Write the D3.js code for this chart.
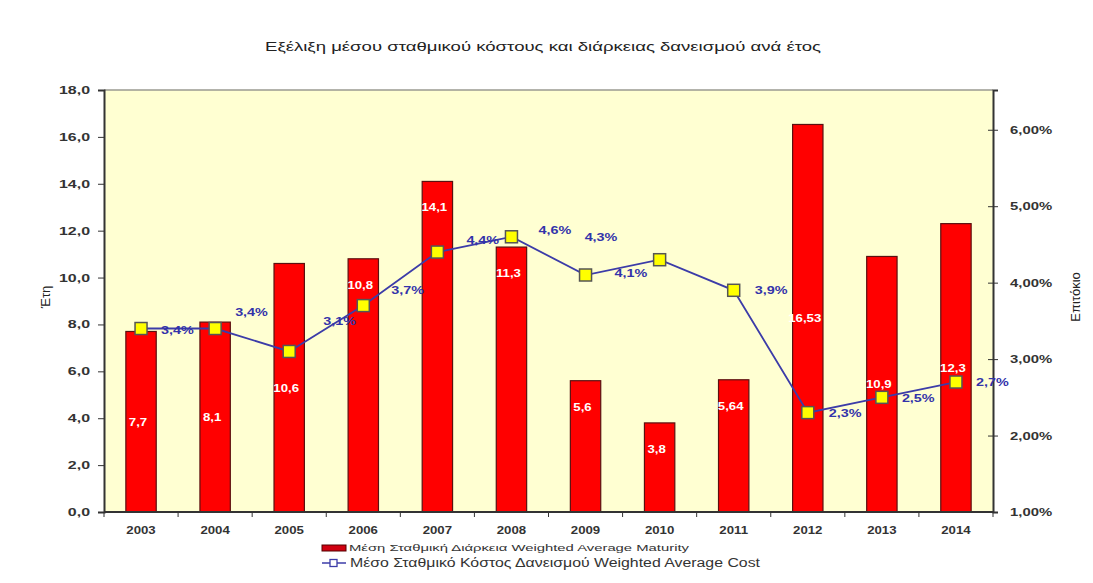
<!DOCTYPE html>
<html><head><meta charset="utf-8">
<script src="https://cdn.jsdelivr.net/npm/d3@7/dist/d3.min.js"></script>
<style>body{margin:0;background:#fff}svg{display:block}text{font-family:"Liberation Sans",Arial,sans-serif}</style>
</head><body><svg id="c" width="1093" height="583"></svg>
<script>
const years = ["2003","2004","2005","2006","2007","2008","2009","2010","2011","2012","2013","2014"];
const maturity = [7.7, 8.1, 10.6, 10.8, 14.1, 11.3, 5.6, 3.8, 5.64, 16.53, 10.9, 12.3];
const cost = [3.4, 3.4, 3.1, 3.7, 4.4, 4.6, 4.1, 4.3, 3.9, 2.3, 2.5, 2.7];
const leftTicks = [0, 2, 4, 6, 8, 10, 12, 14, 16, 18];
const rightTicks = [1, 2, 3, 4, 5, 6];
const barLabelPlace = ["mid","mid","mid","top","top","top","top","top","top","mid","mid","mid"];
const costLabelNudge = [[20,1],[20,-17],[34,-30],[28,-16],[29,-12],[27,-7],[29,-2],[-75,-23],[21,0],[21,0],[20,1],[20,0]];
const title = "Εξέλιξη μέσου σταθμικού κόστους και διάρκειας δανεισμού ανά έτος";
const legend1 = "Μέση Σταθμική Διάρκεια Weighted Average Maturity";
const legend2 = "Μέσο Σταθμικό Κόστος Δανεισμού Weighted Average Cost";

const svg = d3.select("#c");
const L = 104, R = 993, T = 90, B = 512;
const x = d3.scaleBand().domain(years).range([L, R]).paddingInner(0.59).paddingOuter(0.295);
const y = d3.scaleLinear().domain([0, 18]).range([B, T]);
const y2 = d3.scaleLinear().domain([1, 6.52]).range([B, T]);
const comma = v => String(v).replace(".", ",");

function stretch(sel, f) {
  sel.each(function(){ const w = this.getComputedTextLength(); d3.select(this).attr("textLength", w * f).attr("lengthAdjust", "spacingAndGlyphs"); });
}

// plot area
svg.append("rect").attr("x", L).attr("y", T).attr("width", R - L).attr("height", B - T).attr("fill", "#FFFFD2");
svg.append("line").attr("x1", L).attr("x2", R).attr("y1", T).attr("y2", T).attr("stroke", "#9a9a90").attr("stroke-width", 1.5);

// title
svg.append("text").attr("x", 543).attr("y", 51).attr("text-anchor", "middle").attr("font-size", 13.5).attr("fill", "#222")
  .attr("textLength", 556).attr("lengthAdjust", "spacingAndGlyphs").text(title);

// bars
svg.append("g").selectAll("rect").data(maturity).join("rect")
  .attr("x", (d, i) => x(years[i])).attr("width", x.bandwidth())
  .attr("y", d => y(d)).attr("height", d => B - y(d))
  .attr("fill", "#FF0000").attr("stroke", "#5a1010").attr("stroke-width", 1.2);

// bar labels
const bl = svg.append("g").selectAll("text").data(maturity).join("text")
  .attr("x", (d, i) => x(years[i]) + x.bandwidth() / 2 - 3)
  .attr("y", (d, i) => barLabelPlace[i] === "mid" ? (y(d) + B) / 2 + 4 : y(d) + 30)
  .attr("text-anchor", "middle").attr("font-size", 11).attr("font-weight", "bold").attr("fill", "#fff")
  .text(d => comma(d));
stretch(bl, 1.2);

// left axis
const ga = svg.append("g").attr("transform", `translate(${L},0)`)
  .call(d3.axisLeft(y).tickValues(leftTicks).tickSize(6).tickFormat(d => d3.format(".1f")(d).replace(".", ",")));
ga.select(".domain").attr("stroke", "#333").attr("stroke-width", 2);
ga.selectAll(".tick line").attr("stroke", "#333");
ga.selectAll("text").attr("font-size", 11).attr("font-weight", "bold").attr("fill", "#333").attr("x", -14).attr("font-family", "Liberation Sans, Arial");
stretch(ga.selectAll("text"), 1.45);

// right axis
const gr = svg.append("g").attr("transform", `translate(${R},0)`)
  .call(d3.axisRight(y2).tickValues(rightTicks).tickSize(5).tickFormat(d => d.toFixed(2).replace(".", ",") + "%"));
gr.select(".domain").attr("stroke", "#333").attr("stroke-width", 2);
gr.selectAll(".tick line").attr("stroke", "#333").attr("x1", -5);
gr.selectAll("text").attr("font-size", 11).attr("font-weight", "bold").attr("fill", "#333").attr("x", 17).attr("font-family", "Liberation Sans, Arial");
stretch(gr.selectAll("text"), 1.35);

// x axis
const xb = d3.scaleLinear().domain([0, years.length]).range([L, R]);
const gx = svg.append("g").attr("transform", `translate(0,${B})`);
gx.append("line").attr("x1", L).attr("x2", R).attr("stroke", "#333").attr("stroke-width", 2);
gx.selectAll("line.t").data(d3.range(years.length + 1)).join("line").attr("class", "t")
  .attr("x1", d => xb(d)).attr("x2", d => xb(d)).attr("y1", 0).attr("y2", 5).attr("stroke", "#333");
const xl = gx.selectAll("text").data(years).join("text")
  .attr("x", d => x(d) + x.bandwidth() / 2).attr("y", 22).attr("text-anchor", "middle")
  .attr("font-size", 11).attr("font-weight", "bold").attr("fill", "#333").text(d => d);
stretch(xl, 1.2);

// axis titles
svg.append("text").attr("transform", "translate(50,297) rotate(-90)").attr("text-anchor", "middle")
  .attr("font-size", 13).attr("fill", "#222").text("Έτη");
svg.append("text").attr("transform", "translate(1080,297) rotate(-90)").attr("text-anchor", "middle")
  .attr("font-size", 13).attr("fill", "#222").text("Επιτόκιο");

// line
const lineColor = "#3c3ca8";
const line = d3.line().x((d, i) => x(years[i]) + x.bandwidth() / 2).y(d => y2(d));
svg.append("path").datum(cost).attr("d", line).attr("fill", "none").attr("stroke", lineColor).attr("stroke-width", 1.8);
svg.append("g").selectAll("rect").data(cost).join("rect")
  .attr("x", (d, i) => x(years[i]) + x.bandwidth() / 2 - 6).attr("y", d => y2(d) - 6)
  .attr("width", 12).attr("height", 12).attr("fill", "#FFFF00").attr("stroke", "#555").attr("stroke-width", 1.5);
const cl = svg.append("g").selectAll("text").data(cost).join("text")
  .attr("x", (d, i) => x(years[i]) + x.bandwidth() / 2 + costLabelNudge[i][0])
  .attr("y", (d, i) => y2(d) + costLabelNudge[i][1] + 4)
  .attr("font-size", 11.5).attr("font-weight", "bold").attr("fill", "#3333aa")
  .text(d => d.toFixed(1).replace(".", ",") + "%");
stretch(cl, 1.25);

// legend
svg.append("rect").attr("x", 322).attr("y", 545).attr("width", 24).attr("height", 6).attr("fill", "#d00010").attr("stroke", "#500");
svg.append("text").attr("x", 349).attr("y", 551).attr("font-size", 9.5).attr("fill", "#333")
  .attr("textLength", 340).attr("lengthAdjust", "spacingAndGlyphs").text(legend1);
svg.append("line").attr("x1", 322).attr("x2", 346).attr("y1", 563).attr("y2", 563).attr("stroke", lineColor).attr("stroke-width", 1.5);
svg.append("rect").attr("x", 330).attr("y", 559.5).attr("width", 7).attr("height", 7).attr("fill", "#fff").attr("stroke", lineColor).attr("stroke-width", 1.3);
svg.append("text").attr("x", 350).attr("y", 567).attr("font-size", 12).attr("fill", "#333")
  .attr("textLength", 410).attr("lengthAdjust", "spacingAndGlyphs").text(legend2);
</script></body></html>
